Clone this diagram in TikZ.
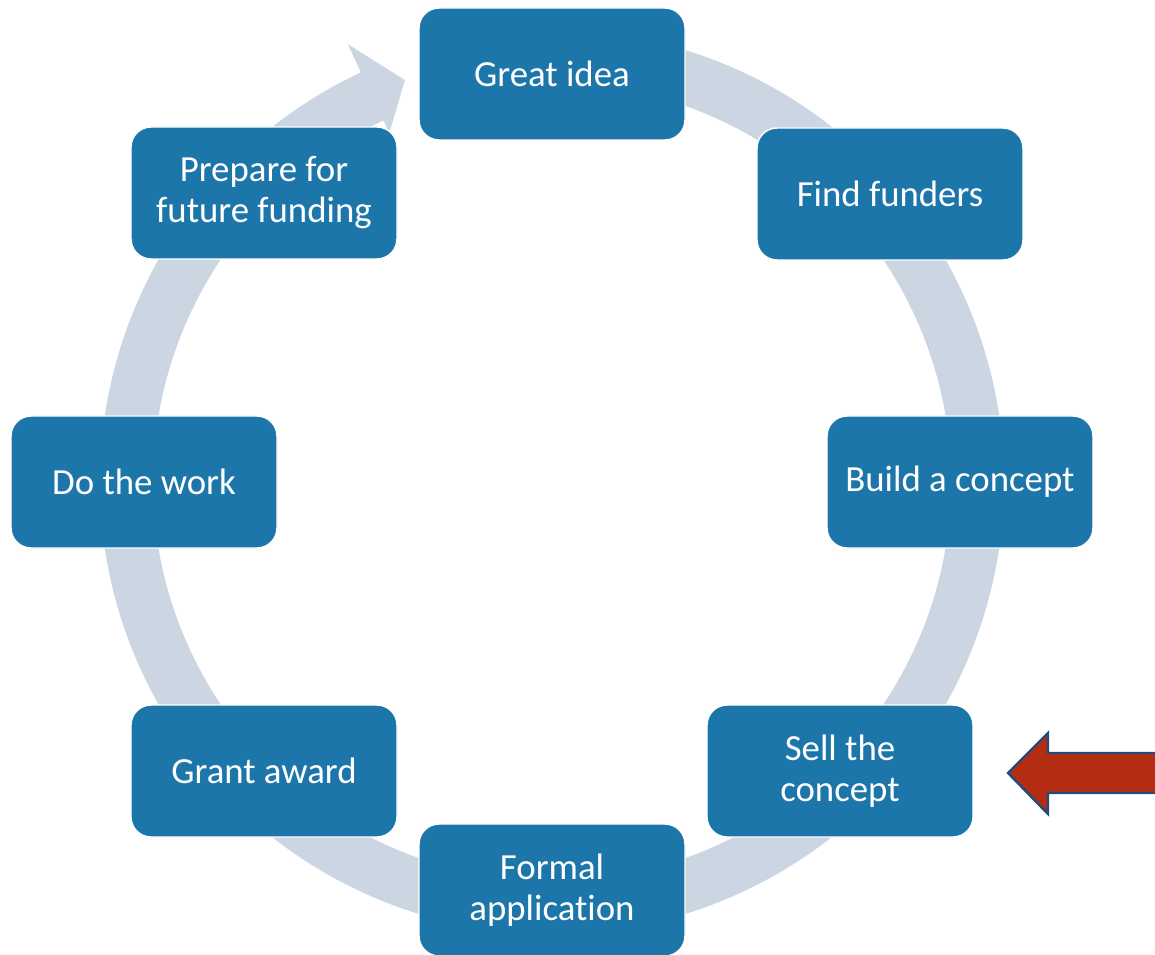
\documentclass[tikz,border=0pt]{standalone}
\usepackage{fontspec}
\setmainfont[Ligatures=NoCommon]{Carlito}
\definecolor{stepblue}{RGB}{29,118,170}
\definecolor{ringgrey}{RGB}{204,213,226}
\definecolor{pointerred}{RGB}{180,44,18}
\definecolor{pointeredge}{RGB}{30,78,121}
\tikzset{
  stagebox/.style={rectangle, rounded corners=15pt, fill=stepblue, draw=white,
    line width=1.1pt, minimum width=199.5pt, minimum height=99pt, inner sep=0pt,
    text=white, align=center, font=\fontsize{27.6pt}{30.75pt}\selectfont},
  cyclering/.style={fill=ringgrey},
  pointer/.style={fill=pointerred, draw=pointeredge, line width=1.8pt, line join=miter}
}
\begin{document}
\begin{tikzpicture}[x=0.75pt, y=0.75pt]
\useasboundingbox (0,0) rectangle (1155,954);
\clip (0,0) rectangle (1155,954);

% circular arrow running clockwise round the cycle
\begin{scope}[shift={(552,472)}]
  \fill[cyclering] (75:452) arc[start angle=75, end angle=-245, radius=452]
    -- (-245:483) -- (-249.9:428) -- (-245:385) -- (-245:399)
    arc[start angle=-245, end angle=75, radius=399] -- cycle;
\end{scope}

% stages of the cycle
\node[stagebox] (idea)    at (552,880) {Great idea};
\node[stagebox] (funders) at (890,760) {Find funders};
\node[stagebox] (build)   at (960,472) {Build a concept};
\node[stagebox] (sell)    at (840,183) {Sell the\\concept};
\node[stagebox] (formal)  at (552,64)  {Formal\\application};
\node[stagebox] (grant)   at (264,183) {Grant award};
\node[stagebox] (work)    at (144,472) {Do the work};
\node[stagebox] (prepare) at (264,761) {Prepare for\\future funding};

% pointer marking the current stage
\draw[pointer] (1200,201) -- (1048,201) -- (1048,221) -- (1008,181)
  -- (1048,140) -- (1048,161) -- (1200,161) -- cycle;
\end{tikzpicture}
\end{document}
